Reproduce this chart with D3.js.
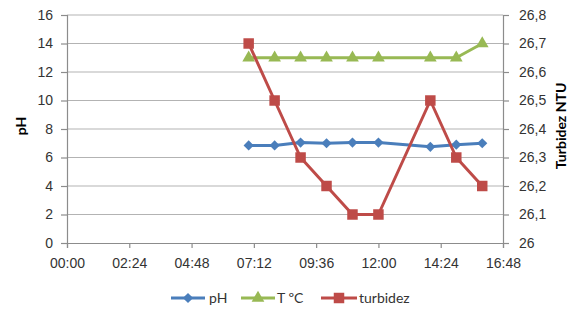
<!DOCTYPE html>
<html>
<head>
<meta charset="utf-8">
<script src="https://cdn.jsdelivr.net/npm/d3@7"></script>
<style>
  html, body { margin: 0; padding: 0; background: #fff; }
  svg { display: block; font-family: Lato, "Open Sans", sans-serif; }
</style>
</head>
<body>
<svg id="chart" width="571" height="321"></svg>
<script>
// Sampling times (hh:mm) and readings
const times = ["07:00", "08:00", "09:00", "10:00", "11:00", "12:00", "14:00", "15:00", "16:00"];
const phValues = [6.85, 6.85, 7.05, 7.0, 7.05, 7.05, 6.75, 6.9, 7.0];
const tempValues = [13, 13, 13, 13, 13, 13, 13, 13, 14];
const turbidityValues = [26.7, 26.5, 26.3, 26.2, 26.1, 26.1, 26.5, 26.3, 26.2];

// Axis ticks
const xTickLabels = ["00:00", "02:24", "04:48", "07:12", "09:36", "12:00", "14:24", "16:48"];
const leftTicks = [0, 2, 4, 6, 8, 10, 12, 14, 16];
const rightTicks = [26, 26.1, 26.2, 26.3, 26.4, 26.5, 26.6, 26.7, 26.8];

const toMinutes = s => { const [h, m] = s.split(":").map(Number); return h * 60 + m; };

const svg = d3.select("#chart");
const plot = { left: 67, right: 503, top: 15, bottom: 243 };

const x = d3.scaleLinear().domain([0, toMinutes("16:48")]).range([plot.left, plot.right]);
const yL = d3.scaleLinear().domain([0, 16]).range([plot.bottom, plot.top]);
const yR = d3.scaleLinear().domain([26, 26.8]).range([plot.bottom, plot.top]);

const gridColor = "#b3b3b3";
const axisColor = "#8c8c8c";
const textColor = "#333333";

// Horizontal gridlines
svg.append("g").selectAll("line").data(leftTicks.slice(1)).join("line")
  .attr("x1", plot.left).attr("x2", plot.right)
  .attr("y1", d => yL(d)).attr("y2", d => yL(d))
  .attr("stroke", gridColor).attr("stroke-width", 1);

// Left axis
const leftAxis = svg.append("g").attr("transform", `translate(${plot.left},0)`)
  .call(d3.axisLeft(yL).tickValues(leftTicks).tickSize(6).tickPadding(8).tickFormat(d3.format("d")));

// Right axis
const rightAxis = svg.append("g").attr("transform", `translate(${plot.right},0)`)
  .call(d3.axisRight(yR).tickValues(rightTicks).tickSize(6).tickPadding(10)
    .tickFormat(d => d3.format(".1f")(d).replace(/\.0$/, "").replace(".", ",")));

// Bottom axis
const xTickValues = xTickLabels.map(toMinutes);
const bottomAxis = svg.append("g").attr("transform", `translate(0,${plot.bottom})`)
  .call(d3.axisBottom(x).tickValues(xTickValues).tickSize(5).tickPadding(8)
    .tickFormat((d, i) => xTickLabels[i]));

[leftAxis, rightAxis, bottomAxis].forEach(g => {
  g.select(".domain").attr("stroke", axisColor).attr("stroke-width", 1.2);
  g.selectAll(".tick line").attr("stroke", axisColor).attr("stroke-width", 1.2);
  g.selectAll(".tick text").attr("fill", textColor).style("font-size", "14px");
});
bottomAxis.selectAll(".tick text").attr("dy", "0.85em");

// Axis titles
svg.append("text").attr("transform", "translate(26,126) rotate(-90)")
  .attr("text-anchor", "middle").attr("font-weight", "bold").attr("font-size", 14)
  .attr("fill", "#000").text("pH");
svg.append("text").attr("transform", "translate(566,126) rotate(-90)")
  .attr("text-anchor", "middle").attr("font-weight", "bold").attr("font-size", 14)
  .attr("fill", "#000").text("Turbidez NTU");

// Marker shapes: the diamond is a square turned 45 degrees
const markers = {
  diamond: { symbol: d3.symbolSquare, size: 52, rotate: 45 },
  triangle: { symbol: d3.symbolTriangle, size: 70, rotate: 0 },
  square: { symbol: d3.symbolSquare, size: 110, rotate: 0 }
};

// Series definitions
const series = [
  { name: "pH", values: phValues, y: yL, color: "#4a7ebb", marker: markers.diamond },
  { name: "T ºC", values: tempValues, y: yL, color: "#98b954", marker: markers.triangle },
  { name: "turbidez", values: turbidityValues, y: yR, color: "#be4b48", marker: markers.square }
];

const drawMarker = (sel, m, color) => sel
  .attr("d", d3.symbol(m.symbol, m.size))
  .attr("fill", color);

series.forEach(s => {
  const pts = times.map((t, i) => [x(toMinutes(t)), s.y(s.values[i])]);
  svg.append("path").datum(pts)
    .attr("d", d3.line())
    .attr("fill", "none").attr("stroke", s.color).attr("stroke-width", 3)
    .attr("stroke-linejoin", "round");
  svg.append("g").selectAll("path").data(pts).join("path")
    .attr("transform", d => `translate(${d[0]},${d[1]}) rotate(${s.marker.rotate})`)
    .call(drawMarker, s.marker, s.color);
});

// Legend
const legendY = 298;
const legendItems = [
  { x0: 171, x1: 205, tx: 209 },
  { x0: 241, x1: 275, tx: 277 },
  { x0: 321, x1: 357, tx: 359 }
];
series.forEach((s, i) => {
  const li = legendItems[i];
  const g = svg.append("g");
  g.append("line").attr("x1", li.x0).attr("x2", li.x1)
    .attr("y1", legendY).attr("y2", legendY)
    .attr("stroke", s.color).attr("stroke-width", 3);
  g.append("path")
    .attr("transform", `translate(${(li.x0 + li.x1) / 2},${legendY}) rotate(${s.marker.rotate})`)
    .call(drawMarker, s.marker, s.color);
  g.append("text").attr("x", li.tx).attr("y", legendY).attr("dy", "0.35em")
    .attr("font-size", 14).attr("fill", textColor).text(s.name);
});
</script>
</body>
</html>
